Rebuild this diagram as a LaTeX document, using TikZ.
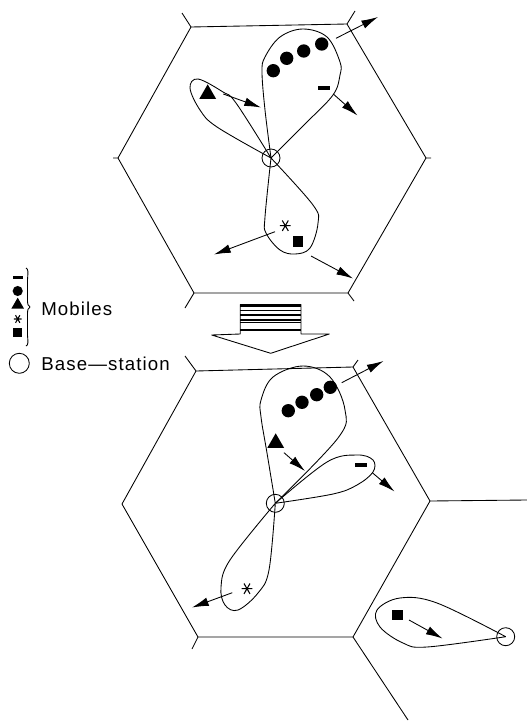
\documentclass[tikz,border=0pt]{standalone}
\usepackage{fontspec}
\setmainfont{Liberation Sans}
\usetikzlibrary{arrows.meta,shapes.geometric}
\tikzset{
  line/.style={line width=0.65pt,black,line join=round},
  lobe/.style={line width=0.65pt,black,smooth,tension=0.6},
  move/.style={line width=0.65pt,-{Latex[length=12.5pt,width=6.5pt]}},
  bs/.style={circle,draw,line width=0.65pt,minimum size=13.5pt,inner sep=0pt},
  dot/.style={circle,fill=black,minimum size=10pt,inner sep=0pt},
  dotsmall/.style={circle,fill=black,minimum size=7.6pt,inner sep=0pt},
  bar/.style={rectangle,fill=black,minimum width=9pt,minimum height=2.8pt,inner sep=0pt},
  barsmall/.style={rectangle,fill=black,minimum width=7.5pt,minimum height=2.2pt,inner sep=0pt},
  tri/.style={regular polygon,regular polygon sides=3,fill=black,minimum size=14.5pt,inner sep=0pt},
  trismall/.style={regular polygon,regular polygon sides=3,fill=black,minimum size=11pt,inner sep=0pt},
  sq/.style={rectangle,fill=black,minimum size=8.2pt,inner sep=0pt},
  sqsmall/.style={rectangle,fill=black,minimum size=6.4pt,inner sep=0pt},
  lab/.style={anchor=west,inner sep=0pt,font=\fontsize{14}{16}\selectfont\addfontfeatures{LetterSpace=6}},
  pics/astmark/.style={code={
    \draw[line width=0.8pt] (-5.4,0)--(5.4,0) (-3,-5.2)--(3,5.2) (-3,5.2)--(3,-5.2);}}
}
\begin{document}
\begin{tikzpicture}[x=0.75pt,y=-0.75pt]
\useasboundingbox (0,0) rectangle (527,728);
% top hexagon
\draw[line] (191,27)--(347,24)--(426,158)--(348,293)--(194,293)--(118,158)--cycle;
\draw[line] (191,27)--(182,13) (347,24)--(355,11) (426,158)--(431,158)
  (348,293)--(354,301) (194,293)--(185,308) (118,158)--(113,158);
% bottom hexagon
\draw[line] (196,371)--(353,367)--(430,501)--(353,637)--(198,637)--(122,504)--cycle;
\draw[line] (196,371)--(185,356) (353,367)--(358,360) (430,501)--(527,500)
  (353,637)--(408,720) (198,637)--(192,649);
% top cell
\node[bs] (bsa) at (271,158) {};
\coordinate (ca) at (271,158);
\draw[lobe] plot coordinates {(ca) (265,110) (262,72) (265,57) (280,37) (303,29) (327,37) (340,62) (340,75) (333,95) (305,124) (ca)};
\draw[lobe] plot coordinates {(ca) (236,103) (223,92) (198,79) (190,88) (200,110) (217,127) (ca)};
\draw[lobe] plot coordinates {(ca) (265,217) (266,233) (280,250) (295,254) (310,248) (318,223) (313,205) (ca)};
\foreach \n/\p in {a/{273.3,70.7},b/{286.7,58.3},c/{303.7,51},d/{321.7,44}}
  \node[dot] (m\n) at (\p) {};
\node[bar] (mbar) at (324.3,88) {};
\node[tri] (mtri) at (207.7,94) {};
\node[sq] (msq) at (298,241.7) {};
\pic at (285.3,225.7) {astmark};
\coordinate (a1s) at (336,38.3); \coordinate (a1e) at (378,17);
\coordinate (a2s) at (223.3,94); \coordinate (a2e) at (261,107.5);
\coordinate (a3s) at (333.3,94); \coordinate (a3e) at (357.5,115.5);
\coordinate (a4s) at (275,231.7); \coordinate (a4e) at (214,254.5);
\coordinate (a5s) at (311,256); \coordinate (a5e) at (353,278.5);
\draw[move] (a1s)--(a1e);
\draw[move] (a2s)--(a2e);
\draw[move] (a3s)--(a3e);
\draw[move] (a4s)--(a4e);
\draw[move] (a5s)--(a5e);
% big arrow
\draw[line,fill=white] (240.3,334)--(240.3,304.5)--(301,304.5)--(301,334)--(329.3,334)--(270.7,353.3)--(211.7,335)--cycle;
\draw[line width=1pt] (240.3,306)--(301,306);
\draw[line width=0.8pt] (240.3,310.5)--(301,310.5);
\draw[line width=0.8pt] (240.3,315)--(301,315);
\draw[line width=0.8pt] (240.3,320)--(301,320);
\draw[line width=0.7pt] (240.3,322.5)--(301,322.5);
\draw[line width=0.8pt] (240.3,330)--(301,330);
% bottom cell
\node[bs] (bsb) at (275.3,503.3) {};
\coordinate (cb) at (275.3,503.3);
\draw[lobe] plot coordinates {(cb) (267,453) (261,417) (261,400) (273,377) (303,366) (330,377) (345,410) (338,438) (cb)};
\draw[lobe] plot coordinates {(cb) (327,462) (357,455) (373,460) (373,472) (357,485) (333,494) (cb)};
\draw[lobe] plot coordinates {(cb) (230,560) (221,587) (225,605) (238,610) (258,593) (269,570) (cb)};
\foreach \n/\p in {a/{288.3,410.7},b/{302,402.3},c/{316.7,394.7},d/{330.3,387.3}}
  \node[dot] (n\n) at (\p) {};
\node[bar] (nbar) at (361.3,465.3) {};
\node[tri] (ntri) at (275.7,443) {};
\pic at (247,588.7) {astmark};
\coordinate (b1s) at (341.7,382.7); \coordinate (b1e) at (383.5,361);
\coordinate (b2s) at (284,452.7); \coordinate (b2e) at (305,471);
\coordinate (b3s) at (372.3,472.7); \coordinate (b3e) at (394.5,491.5);
\coordinate (b4s) at (232.3,592.7); \coordinate (b4e) at (192,607.5);
\draw[move] (b1s)--(b1e);
\draw[move] (b2s)--(b2e);
\draw[move] (b3s)--(b3e);
\draw[move] (b4s)--(b4e);
% neighbouring cell
\node[bs] (bsc) at (505.7,636.7) {};
\coordinate (cc) at (505.7,636.7);
\draw[lobe] plot coordinates {(cc) (437,603) (400,598) (377,610) (380,627) (403,643) (427,647) (cc)};
\node[sq] (nsq) at (397.7,615) {};
\coordinate (b5s) at (409,620); \coordinate (b5e) at (442.5,638.5);
\draw[move] (b5s)--(b5e);
% legend
\node[barsmall] (lbar) at (17.7,277.7) {};
\node[dotsmall] (ldot) at (17.7,291) {};
\node[trismall] (ltri) at (17.7,305) {};
\pic[scale=0.72] at (17.7,319) {astmark};
\node[sqsmall] (lsq) at (17.7,332.5) {};
\draw[line] (26,268) .. controls (28.5,269) and (28,272) .. (27.5,280)
  -- (27.5,300) .. controls (27.5,304) and (28,306) .. (30,307)
  .. controls (28,308) and (27.5,310) .. (27.5,314)
  -- (27.5,335) .. controls (28,342) and (28.5,345) .. (26,346);
\node[lab] (lmob) at (41,309) {Mobiles};
\node[bs,minimum size=15pt] (lbs) at (19.3,363.3) {};
\node[lab] (lbase) at (41,364) {Base—station};
\end{tikzpicture}
\end{document}
